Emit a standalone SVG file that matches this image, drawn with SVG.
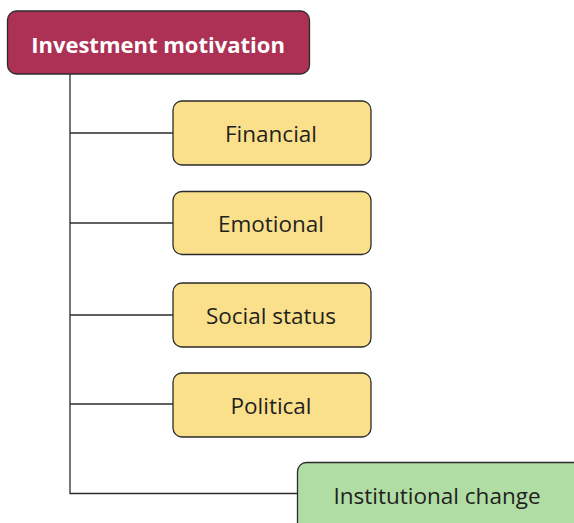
<svg xmlns="http://www.w3.org/2000/svg" width="574" height="523" viewBox="0 0 574 523">
<style>
.box{stroke:#2b2b2b;stroke-width:1.3}
.root{fill:#ac3155}
.y{fill:#fbe08b}
.g{fill:#b0dda4}
.t{font-family:"Open Sans","Liberation Sans",sans-serif;font-size:22.5px;fill:#231f20;text-anchor:middle}
.rt{font-family:"Open Sans","Liberation Sans",sans-serif;font-size:22px;font-weight:bold;fill:#ffffff;text-anchor:middle}
.c{stroke:#2b2b2b;stroke-width:1.3;fill:none}
</style>
<rect width="574" height="523" fill="#ffffff"/>
<g id="connectors">
<path class="c" d="M70,74 V493.5 H298"/>
<path class="c" d="M70,133 H173"/>
<path class="c" d="M70,223 H173"/>
<path class="c" d="M70,315 H173"/>
<path class="c" d="M70,404 H173"/>
</g>
<g id="root">
<rect class="box root" x="7.5" y="11" width="302" height="63" rx="9"/>
<text class="rt" x="158" y="52.5">Investment motivation</text>
</g>
<g id="financial">
<rect class="box y" x="173" y="101" width="198" height="64" rx="9"/>
<text class="t" x="271" y="141.5">Financial</text>
</g>
<g id="emotional">
<rect class="box y" x="173" y="191.5" width="198" height="63" rx="9"/>
<text class="t" x="271" y="231.5">Emotional</text>
</g>
<g id="social">
<rect class="box y" x="173" y="283" width="198" height="64" rx="9"/>
<text class="t" x="271" y="323.5">Social status</text>
</g>
<g id="political">
<rect class="box y" x="173" y="373" width="198" height="64" rx="9"/>
<text class="t" x="271" y="413.5">Political</text>
</g>
<g id="institutional">
<rect class="box g" x="297.5" y="462.5" width="290" height="75" rx="9"/>
<text class="t" x="437" y="504">Institutional change</text>
</g>
</svg>
